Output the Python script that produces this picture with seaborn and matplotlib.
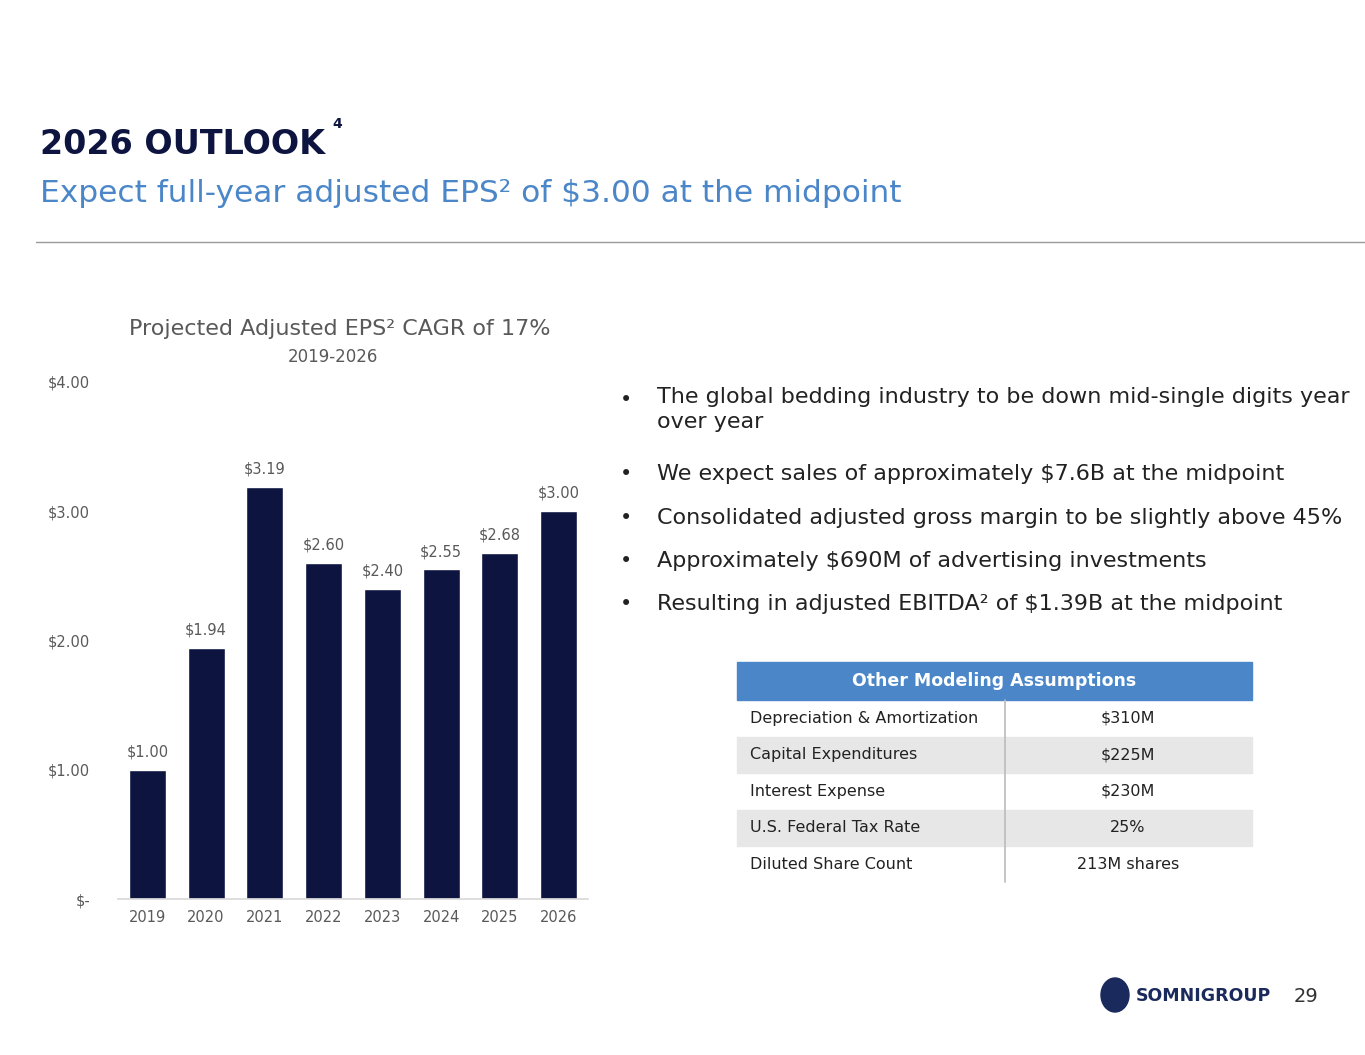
import matplotlib
matplotlib.use("Agg")
import matplotlib.pyplot as plt
import seaborn as sns
import pandas as pd
from matplotlib.patches import Rectangle, Ellipse

years = ["2019", "2020", "2021", "2022", "2023", "2024", "2025", "2026"]
eps = [1.00, 1.94, 3.19, 2.60, 2.40, 2.55, 2.68, 3.00]
bar_labels = ["$1.00", "$1.94", "$3.19", "$2.60", "$2.40", "$2.55", "$2.68", "$3.00"]
yticks = [0, 1, 2, 3, 4]
ytick_labels = ["$-", "$1.00", "$2.00", "$3.00", "$4.00"]
bullets = [
    "The global bedding industry to be down mid-single digits year\nover year",
    "We expect sales of approximately $7.6B at the midpoint",
    "Consolidated adjusted gross margin to be slightly above 45%",
    "Approximately $690M of advertising investments",
    "Resulting in adjusted EBITDA² of $1.39B at the midpoint",
]
table_items = ["Depreciation & Amortization", "Capital Expenditures", "Interest Expense",
               "U.S. Federal Tax Rate", "Diluted Share Count"]
table_values = ["$310M", "$225M", "$230M", "25%", "213M shares"]

sns.set_theme(style="white")
plt.rcParams['font.family'] = ['DejaVu Sans']
plt.rcParams['text.parse_math'] = False
W, H = 1365, 1055
fig = plt.figure(figsize=(13.65, 10.55), dpi=100)

def fx(x): return x / W
def fy(y): return 1 - y / H

navy = "#0d1440"
blue = "#4a86c8"
gray = "#595959"

fig.text(fx(40), fy(145), "2026 OUTLOOK", fontsize=24, fontweight="bold", color=navy, va="center")
fig.text(fx(332), fy(124), "4", fontsize=10, fontweight="bold", color=navy, va="center")
fig.text(fx(40), fy(193), "Expect full-year adjusted EPS² of $3.00 at the midpoint", fontsize=22.5, color=blue, va="center")
fig.add_artist(plt.Line2D([fx(36), fx(1365)], [fy(242), fy(242)], color="#999999", lw=1))

fig.text(fx(340), fy(329), "Projected Adjusted EPS² CAGR of 17%", fontsize=16, color=gray, ha="center", va="center")
fig.text(fx(333), fy(357), "2019-2026", fontsize=12, color=gray, ha="center", va="center")

ax = fig.add_axes([fx(118), fy(899), fx(588) - fx(118), fy(382) - fy(899)])
df = pd.DataFrame({"year": years, "eps": eps})
sns.barplot(data=df, x="year", y="eps", color=navy, saturation=1, width=0.63, ax=ax)
for i, (v, lab) in enumerate(zip(eps, bar_labels)):
    ax.text(i, v + 0.08, lab, ha="center", va="bottom", fontsize=10.5, color=gray)
ax.set_ylim(0, 4)
ax.set_yticks(yticks)
ax.set_yticklabels(ytick_labels, fontsize=10.5, color=gray)
ax.tick_params(axis="x", labelsize=10.5, labelcolor=gray, length=0, pad=8)
ax.tick_params(axis="y", length=0, pad=20)
ax.set_xlabel("")
ax.set_ylabel("")
for s in ["top", "right", "left"]:
    ax.spines[s].set_visible(False)
ax.spines["bottom"].set_color("#d9d9d9")

ys = [400, 474, 518, 561, 604]
for y, b in zip(ys, bullets):
    fig.text(fx(620), fy(y), "•", fontsize=15, color="#222222", va="center")
    if "\n" in b:
        fig.text(fx(657), fy(y - 13), b, fontsize=16, color="#222222", va="top", linespacing=1.3)
    else:
        fig.text(fx(657), fy(y), b, fontsize=16, color="#222222", va="center")

x0, x1, xm = 737, 1252, 1005
fig.add_artist(Rectangle((fx(x0), fy(700)), fx(x1) - fx(x0), fy(662) - fy(700), color=blue, transform=fig.transFigure))
fig.text(fx((x0 + x1) / 2), fy(681), "Other Modeling Assumptions", fontsize=12.5, fontweight="bold", color="white", ha="center", va="center")
row_h = 36.5
for i, (it, val) in enumerate(zip(table_items, table_values)):
    top = 700 + i * row_h
    if i % 2 == 1:
        fig.add_artist(Rectangle((fx(x0), fy(top + row_h)), fx(x1) - fx(x0), row_h / H, color="#e7e7e7", transform=fig.transFigure))
    fig.text(fx(750), fy(top + row_h / 2), it, fontsize=11.5, color="#222222", va="center")
    fig.text(fx(1128), fy(top + row_h / 2), val, fontsize=11.5, color="#222222", va="center", ha="center")
fig.add_artist(plt.Line2D([fx(xm), fx(xm)], [fy(700), fy(882)], color="#bbbbbb", lw=1.2))

fig.add_artist(Ellipse((fx(1115), fy(995)), 28 / W, 34 / H, color="#1b2a5c", transform=fig.transFigure))
fig.text(fx(1136), fy(996), "SOMNIGROUP", fontsize=12.5, fontweight="bold", color="#1b2a5c", va="center")
fig.text(fx(1306), fy(996), "29", fontsize=14, color="#333333", va="center", ha="center")

fig.savefig("out.png", dpi=100)
